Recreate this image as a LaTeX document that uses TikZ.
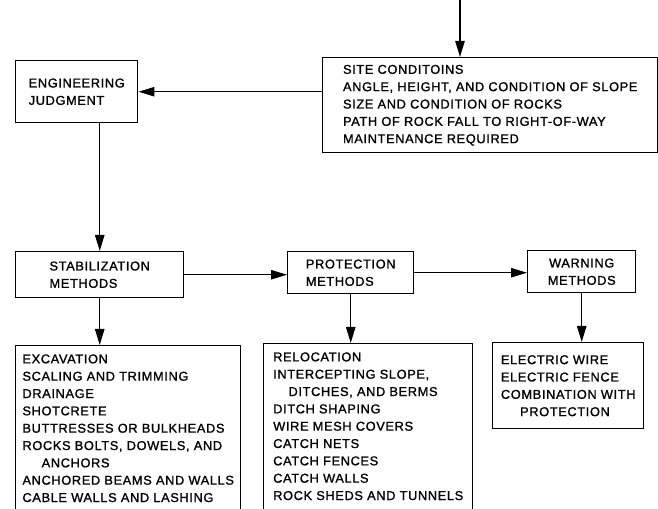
\documentclass[tikz,border=0pt]{standalone}
\usepackage{fontspec}
\newfontfamily\chartfont{Liberation Sans}[LetterSpace=5,FakeBold=1.2]
\usetikzlibrary{arrows.meta}

\begin{document}
\begin{tikzpicture}[x=0.75pt,y=0.75pt,yscale=-1,xscale=1,
	box/.style={draw, line width=1.1pt, anchor=north west, align=left, inner xsep=0pt, inner ysep=0pt, font=\chartfont\fontsize{9.6}{13}\selectfont},
	arr/.style={line width=1.1pt, -{Triangle[length=12pt,width=7pt]}}]
	%set diagram frame
	\useasboundingbox (0,0) rectangle (658,509);
	
	% Text Node
	\draw (15,60) node [box, minimum width=91.5pt, minimum height=46.5pt] (eng) {ENGINEERING\\JUDGMENT};
	% Text Node
	\draw (322,57) node [box, minimum width=251.25pt, minimum height=71.25pt] (site) {SITE CONDITOINS\\ANGLE, HEIGHT, AND CONDITION OF SLOPE\\SIZE AND CONDITION OF ROCKS\\PATH OF ROCK FALL TO RIGHT-OF-WAY\\MAINTENANCE REQUIRED};
	% Text Node
	\draw (15,251) node [box, minimum width=126pt, minimum height=34.5pt] (stab) {STABILIZATION\\METHODS};
	% Text Node
	\draw (287,251) node [box, minimum width=94.5pt, minimum height=31.5pt] (prot) {PROTECTION\\METHODS};
	% Text Node
	\draw (527,250) node [box, align=center, minimum width=81pt, minimum height=31.5pt] (warn) {WARNING\\METHODS};
	% Text Node (runs on below the frame)
	\draw (15,345) node [box, minimum width=168.75pt, inner ysep=6.5pt] (stablist) {EXCAVATION\\SCALING AND TRIMMING\\DRAINAGE\\SHOTCRETE\\BUTTRESSES OR BULKHEADS\\ROCKS BOLTS, DOWELS, AND\\\hspace*{1.5em}ANCHORS\\ANCHORED BEAMS AND WALLS\\CABLE WALLS AND LASHING\\\rule{0pt}{6pt}};
	% Text Node (runs on below the frame)
	\draw (263,343) node [box, minimum width=156.75pt, inner ysep=6.5pt] (protlist) {RELOCATION\\INTERCEPTING SLOPE,\\\hspace*{1.2em}DITCHES, AND BERMS\\DITCH SHAPING\\WIRE MESH COVERS\\CATCH NETS\\CATCH FENCES\\CATCH WALLS\\ROCK SHEDS AND TUNNELS\\\rule{0pt}{6pt}};
	% Text Node
	\draw (492,342) node [box, minimum width=113.25pt, minimum height=64.5pt] (warnlist) {ELECTRIC WIRE\\ELECTRIC FENCE\\COMBINATION WITH\\\hspace*{1.5em}PROTECTION};
	
	%Straight Lines
	\coordinate (top) at (460,0);
	\draw[arr] (top) -- (top |- site.north);
	\draw[arr] (eng.east -| site.west) -- (eng.east);
	\draw[arr] (eng.south -| stab.north) -- (stab.north);
	\draw[arr] (stab.east) -- (stab.east -| prot.west);
	\draw[arr] (prot.east) -- (prot.east -| warn.west);
	\draw[arr] (stab.south) -- (stab.south |- stablist.north);
	\draw[arr] (prot.south) -- (prot.south |- protlist.north);
	\draw[arr] (warn.south) -- (warn.south |- warnlist.north);
\end{tikzpicture}
\end{document}
